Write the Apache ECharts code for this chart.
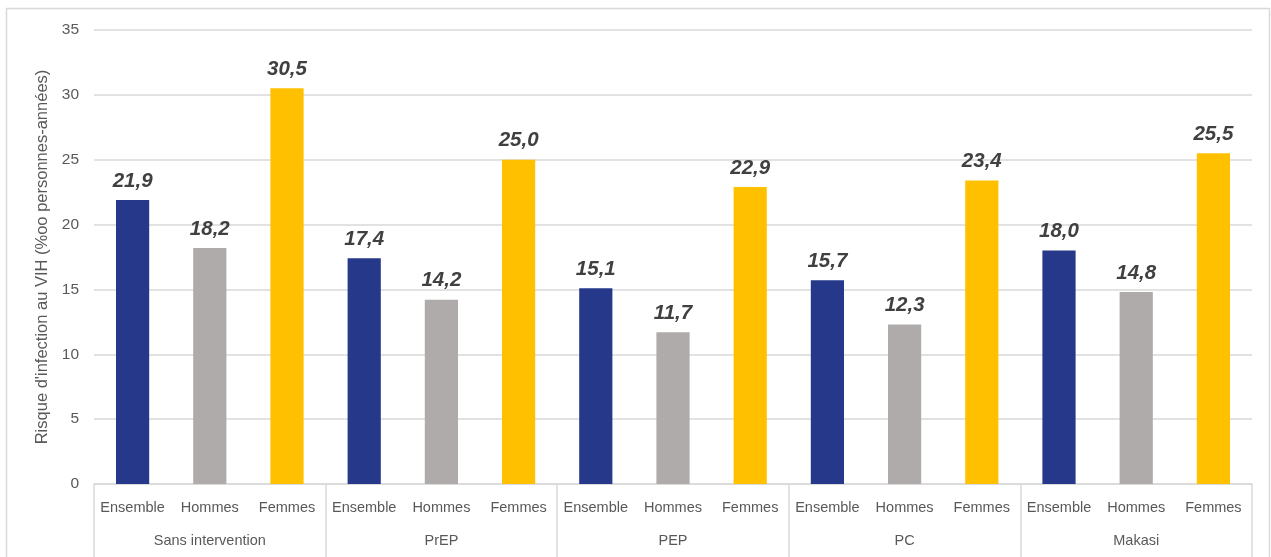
<!DOCTYPE html>
<html><head><meta charset="utf-8">
<script src="https://cdn.jsdelivr.net/npm/echarts@6/dist/echarts.min.js"></script>
<style>html,body{margin:0;padding:0;background:#fff}#c{width:1271px;height:557px}</style>
</head><body><div id="c"></div>
<script>
const groups = ['Sans intervention','PrEP','PEP','PC','Makasi'];
const subgroups = ['Ensemble','Hommes','Femmes'];
const ensemble = [21.9, 17.4, 15.1, 15.7, 18.0];
const hommes = [18.2, 14.2, 11.7, 12.3, 14.8];
const femmes = [30.5, 25.0, 22.9, 23.4, 25.5];
const yTicks = [0,5,10,15,20,25,30,35];
const colors = ['#26388A','#AEABAA','#FFC000'];

const cats = [], data = [];
groups.forEach((g,i)=>{
  [ensemble, hommes, femmes].forEach((arr,j)=>{
    cats.push(subgroups[j]);
    data.push({value: arr[i], itemStyle:{color: colors[j]}});
  });
});
const font = 'Liberation Sans, Arial, sans-serif';
const chart = echarts.init(document.getElementById('c'));
chart.setOption({
  animation:false,
  graphic:[{type:'rect', shape:{x:6.5,y:8.5,width:1263,height:560}, style:{fill:'none',stroke:'#D9D9D9',lineWidth:1.5}, silent:true}],
  grid:{left:94, right:19, top:30, bottom:73},
  xAxis:[
    {type:'category', data:cats, axisLine:{lineStyle:{color:'#D9D9D9',width:1.5}}, axisTick:{show:false},
     axisLabel:{interval:0, color:'#595959', fontSize:14.5, fontFamily:font, margin:16}},
    {type:'category', data:groups, position:'bottom', offset:0, axisLine:{show:false},
     axisTick:{show:true, length:80, interval:0, lineStyle:{color:'#D9D9D9',width:1.5}},
     axisLabel:{interval:0, color:'#595959', fontSize:14.5, fontFamily:font, margin:49}, splitLine:{show:false}}
  ],
  yAxis:{type:'value', min:yTicks[0], max:yTicks[yTicks.length-1], interval:5,
    name:"Risque d'infection au VIH (%oo personnes-années)", nameLocation:'middle', nameGap:41,
    nameTextStyle:{color:'#595959', fontSize:16.5, fontFamily:font},
    axisLabel:{color:'#595959', fontSize:15.5, fontFamily:font, margin:15},
    axisLine:{show:false}, axisTick:{show:false},
    splitLine:{lineStyle:{color:'#D9D9D9',width:1.5}}},
  series:[{type:'bar', xAxisIndex:0, data:data, barWidth:'43%',
    label:{show:true, position:'top', distance:9, color:'#404040', fontSize:20.5, fontWeight:'bold', fontStyle:'italic', fontFamily:font,
      formatter:p=>p.value.toFixed(1).replace('.',',')}}]
});
</script></body></html>
